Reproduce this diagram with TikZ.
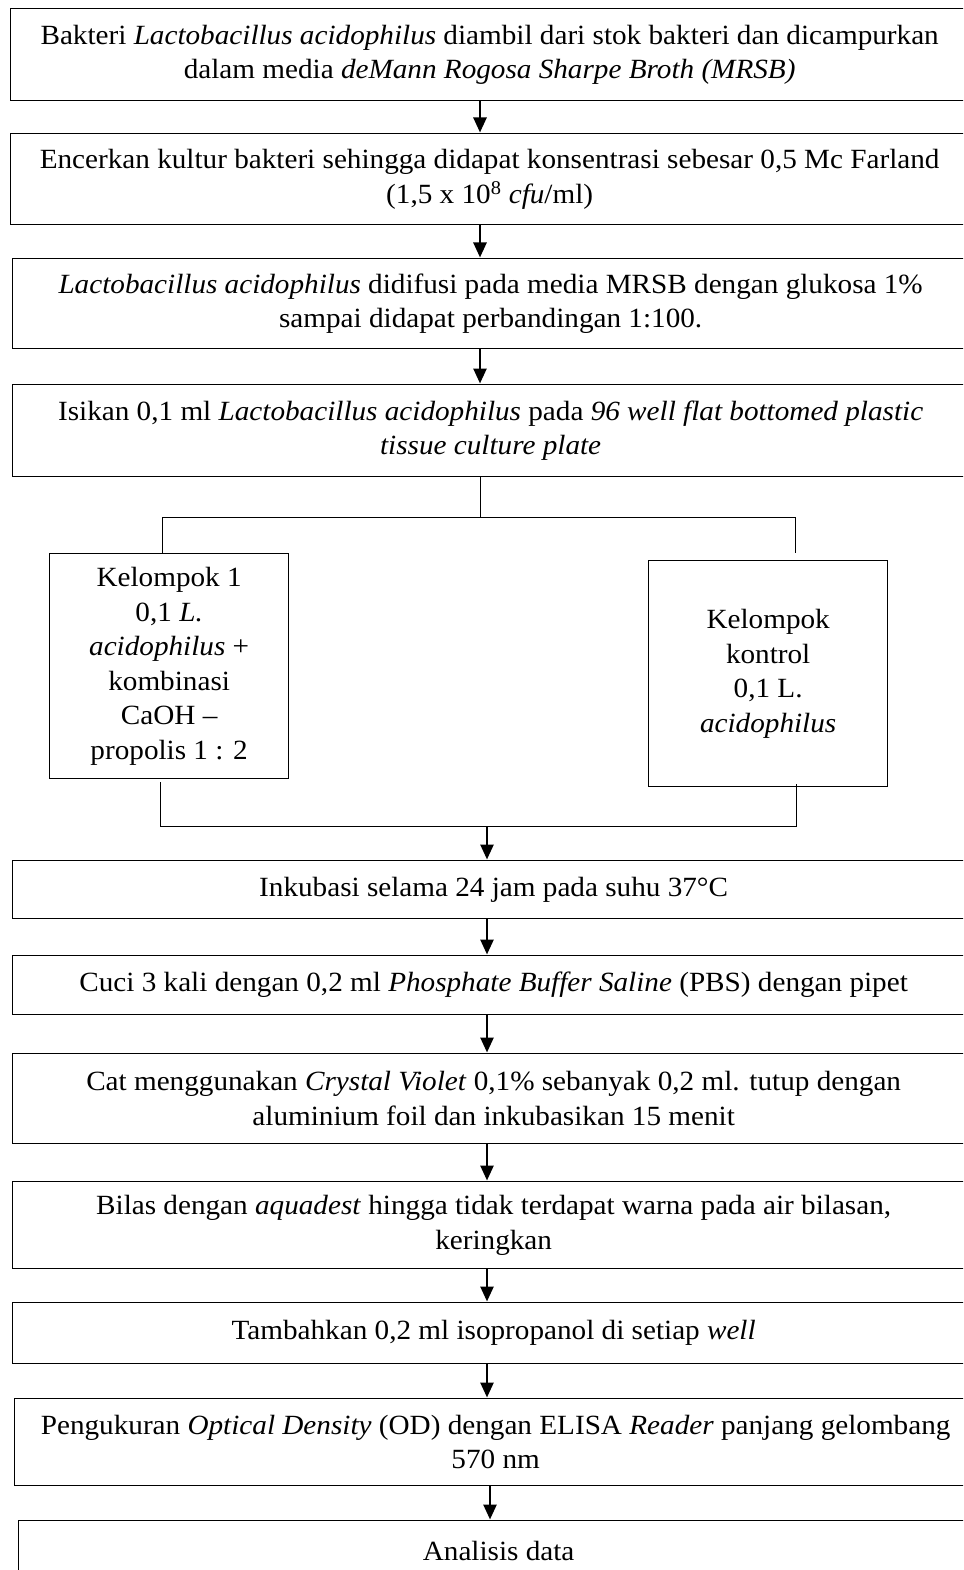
\documentclass[tikz,border=0pt]{standalone}
\usepackage{fontspec}
\setmainfont[FakeStretch=1.05]{Liberation Serif}
\usetikzlibrary{arrows.meta}
\begin{document}
\begin{tikzpicture}[x=1pt,y=-1pt,
  box/.style={draw, line width=1.3pt, inner sep=0pt, anchor=north west, align=center,
    font=\fontsize{27.8}{34.5}\selectfont},
  link/.style={line width=0.9pt},
  arr/.style={line width=2.6pt, -{Triangle[width=13pt,length=15pt]}, shorten >=0.5pt}]
\useasboundingbox (0,0) rectangle (963,1570);
\clip (0,0) rectangle (963,1570);
\fill[white] (0,0) rectangle (963,1570);

\node[box, minimum width=958pt, minimum height=92pt] (b1) at (10,8)
  {Bakteri \textit{Lactobacillus acidophilus} diambil dari stok bakteri dan dicampurkan\\ dalam media \textit{deMann Rogosa Sharpe Broth (MRSB)}};
\node[box, minimum width=958pt, minimum height=91pt] (b2) at (10,133)
  {Encerkan kultur bakteri sehingga didapat konsentrasi sebesar 0,5 Mc Farland\\ (1,5 x 10\textsuperscript{8} \textit{cfu}/ml)};
\node[box, minimum width=956pt, minimum height=90pt] (b3) at (12,258)
  {\textit{Lactobacillus acidophilus} didifusi pada media MRSB dengan glukosa 1\%\\ sampai didapat perbandingan 1:100.};
\node[box, minimum width=956pt, minimum height=92pt] (b4) at (12,384)
  {Isikan 0,1 ml \textit{Lactobacillus acidophilus} pada \textit{96 well flat bottomed plastic}\\ \textit{tissue culture plate}};
\node[box, minimum width=239pt, minimum height=225pt] (k1) at (49,553)
  {Kelompok 1\\ 0,1 \textit{L.}\\ \textit{acidophilus} +\\ kombinasi\\ CaOH –\\ propolis 1 : 2};
\node[box, minimum width=239pt, minimum height=226pt] (k2) at (648,560)
  {Kelompok\\ kontrol\\ 0,1 L.\\ \textit{acidophilus}};
\node[box, minimum width=962pt, minimum height=58pt] (b7) at (12,860)
  {Inkubasi selama 24 jam pada suhu 37°C};
\node[box, minimum width=962pt, minimum height=59pt] (b8) at (12,955)
  {Cuci 3 kali dengan 0,2 ml \textit{Phosphate Buffer Saline} (PBS) dengan pipet};
\node[box, minimum width=962pt, minimum height=90pt] (b9) at (12,1053)
  {Cat menggunakan \textit{Crystal Violet} 0,1\% sebanyak 0,2 ml. tutup dengan\\ aluminium foil dan inkubasikan 15 menit};
\node[box, minimum width=962pt, minimum height=87pt] (b10) at (12,1181)
  {Bilas dengan \textit{aquadest} hingga tidak terdapat warna pada air bilasan,\\ keringkan};
\node[box, minimum width=962pt, minimum height=61pt] (b11) at (12,1302)
  {Tambahkan 0,2 ml isopropanol di setiap \textit{well}};
\node[box, minimum width=962pt, minimum height=87pt] (b12) at (14,1398)
  {Pengukuran \textit{Optical Density} (OD) dengan ELISA \textit{Reader} panjang gelombang\\ 570 nm};
\node[box, minimum width=960pt, minimum height=60pt] (b13) at (18,1520)
  {Analisis data};

% arrow x positions
\coordinate (ax1) at (480,0);
\coordinate (ax2) at (487,0);
\coordinate (ax3) at (490,0);

\draw[arr] (b1.south -| ax1) -- (b2.north -| ax1);
\draw[arr] (b2.south -| ax1) -- (b3.north -| ax1);
\draw[arr] (b3.south -| ax1) -- (b4.north -| ax1);

% branch
\coordinate (jtop) at (480,517);
\coordinate (jl) at (162,517);
\coordinate (jr) at (795,517);
\coordinate (jrend) at (795,553);
\draw[link] (b4.south -| ax1) -- (jtop);
\draw[link] (jl) -- (jr);
\draw[link] (jl) -- (k1.north -| jl);
\draw[link] (jr) -- (jrend);

% merge
\coordinate (ml) at (160,826);
\coordinate (mr) at (796,826);
\coordinate (mlstart) at (160,782);
\coordinate (mrstart) at (796,784);
\draw[link] (mlstart) -- (ml) -- (mr) -- (mrstart);
\draw[arr] (ml -| ax2) -- (b7.north -| ax2);

\draw[arr] (b7.south -| ax2) -- (b8.north -| ax2);
\draw[arr] (b8.south -| ax2) -- (b9.north -| ax2);
\draw[arr] (b9.south -| ax2) -- (b10.north -| ax2);
\draw[arr] (b10.south -| ax2) -- (b11.north -| ax2);
\draw[arr] (b11.south -| ax2) -- (b12.north -| ax2);
\draw[arr] (b12.south -| ax3) -- (b13.north -| ax3);
\end{tikzpicture}
\end{document}
